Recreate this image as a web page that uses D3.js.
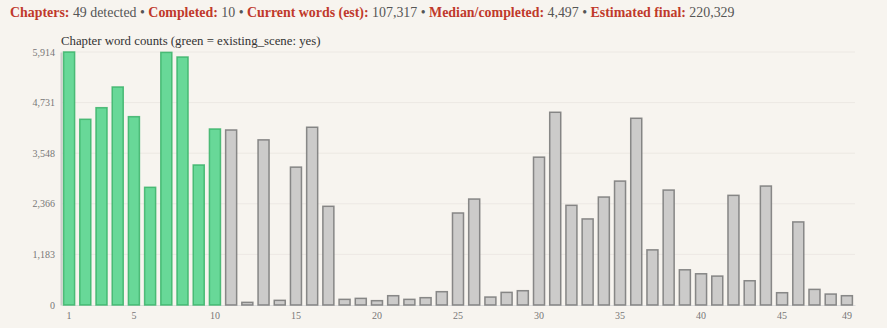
<!DOCTYPE html>
<html>
<head>
<meta charset="utf-8">
<script src="https://cdn.jsdelivr.net/npm/d3@7"></script>
<style>
  body { margin: 0; background: #f7f4ef; font-family: "Liberation Serif", "DejaVu Serif", serif; }
  #stats { position: absolute; left: 10px; top: 5px; font-size: 13.9px; color: #555; white-space: nowrap; }
  #stats b { color: #c0392b; }
</style>
</head>
<body>
<div id="stats"></div>
<svg width="887" height="328"></svg>
<script>
// chapter word counts
const chapters = d3.range(1, 50);
const words = [5914, 4341, 4612, 5096, 4402, 2751, 5905, 5797, 3273, 4114,
  4091, 62, 3860, 109, 3223, 4155, 2307, 132, 155, 101,
  217, 132, 171, 311, 2151, 2477, 186, 295, 334, 3456,
  4505, 2330, 2012, 2524, 2897, 4365, 1289, 2687, 823, 730,
  676, 2563, 567, 2781, 287, 1942, 365, 256, 217];
const existingScene = chapters.map(c => c <= 10);
const yTicks = [0, 1183, 2366, 3548, 4731, 5914];
const xTicks = [1, 5, 10, 15, 20, 25, 30, 35, 40, 45, 49];
const stats = [["Chapters:", "49 detected"], ["Completed:", "10"], ["Current words (est):", "107,317"],
  ["Median/completed:", "4,497"], ["Estimated final:", "220,329"]];

d3.select("#stats").html(stats.map(s => "<b>" + s[0] + "</b> " + s[1]).join(" &bull; "));

var svg = d3.select("svg");
const margin = {left: 61, right: 32, top: 52, bottom: 23};
const width = +svg.attr("width");
const height = +svg.attr("height");

const x = d3.scaleBand()
	.domain(chapters)
	.range([margin.left, width - margin.right])
	.paddingInner(0.32)
	.paddingOuter(0.16);

const y = d3.scaleLinear()
	.domain([0, 5914])
	.range([height - margin.bottom, margin.top]);

svg.append("text")
	.attr("x", margin.left)
	.attr("y", 45)
	.attr("font-size", 12.8)
	.attr("fill", "#333")
	.text("Chapter word counts (green = existing_scene: yes)");

// faint grid
svg.append("g")
	.selectAll("line")
	.data(yTicks.slice(1))
	.join("line")
	.attr("x1", margin.left)
	.attr("x2", width - margin.right)
	.attr("y1", d => y(d))
	.attr("y2", d => y(d))
	.attr("stroke", "#ece8e3")
	.attr("stroke-width", 1);

const yAxis = svg.append("g")
	.attr("transform", `translate(${margin.left},0)`)
	.call(d3.axisLeft(y).tickValues(yTicks).tickFormat(d3.format(",")).tickSize(0).tickPadding(6));
yAxis.select(".domain").attr("stroke", "#ccc").attr("stroke-width", 2);
yAxis.selectAll("text").attr("fill", "#777").attr("font-size", 10).attr("font-family", "Liberation Serif, serif");

const xAxis = svg.append("g")
	.attr("transform", `translate(0,${height - margin.bottom})`)
	.call(d3.axisBottom(x).tickValues(xTicks).tickSize(0).tickPadding(7));
xAxis.select(".domain").attr("stroke", "#ddd").attr("stroke-width", 1);
xAxis.selectAll("text").attr("fill", "#777").attr("font-size", 10).attr("font-family", "Liberation Serif, serif");

svg.append("g")
	.selectAll("rect")
	.data(words)
	.join("rect")
	.attr("x", (d, i) => x(chapters[i]))
	.attr("y", d => y(d))
	.attr("width", x.bandwidth())
	.attr("height", d => y(0) - y(d))
	.attr("fill", (d, i) => existingScene[i] ? "#68d898" : "#cccbca")
	.attr("stroke", (d, i) => existingScene[i] ? "#3bb36a" : "#777")
	.attr("stroke-opacity", 0.85)
	.attr("stroke-width", 1.5);
</script>
</body>
</html>
